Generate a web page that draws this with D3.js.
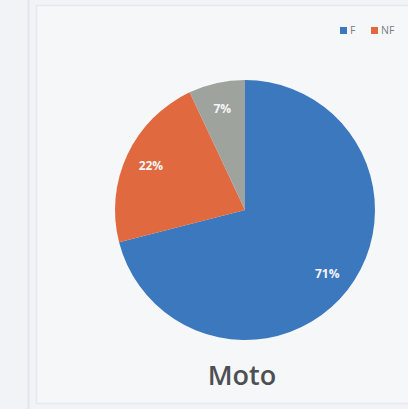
<!DOCTYPE html>
<html>
<head>
<meta charset="utf-8">
<script src="https://cdn.jsdelivr.net/npm/d3@7"></script>
<style>
  body { margin: 0; background: #f1f3f6; }
</style>
</head>
<body>
<div id="chart"></div>
<script>
// data
const categories = ['F', 'NF', 'Other'];
const values = [71, 22, 7];
const labels = ['71%', '22%', '7%'];
const legendItems = ['F', 'NF'];
const title = 'Moto';

const w = 408;
const h = 409;
const colours = ['#3b78bd', '#e0693f', '#9fa39d'];

const svg = d3.select('#chart')
  .append('svg')
  .attr('width', w)
  .attr('height', h);

// scanned page panels
svg.append('rect').attr('x', 0).attr('y', 0).attr('width', w).attr('height', h).attr('fill', '#f1f3f6');
svg.append('line').attr('x1', 28.5).attr('x2', 28.5).attr('y1', 0).attr('y2', h)
  .attr('stroke', '#e2e5e9').attr('stroke-width', 2);
svg.append('rect').attr('x', 36.5).attr('y', 5.5).attr('width', 380).attr('height', 398)
  .attr('fill', '#f5f7f9').attr('stroke', '#e6e8ec').attr('stroke-width', 1.5);

const cx = 245, cy = 210, r = 130;

const pie = d3.pie().sort(null).value(d => d);
const arcs = pie(values);
const arc = d3.arc().innerRadius(0).outerRadius(r);
const labelArc = d3.arc().innerRadius(r * 0.8).outerRadius(r * 0.8);

const g = svg.append('g').attr('transform', `translate(${cx},${cy})`);

g.selectAll('path')
  .data(arcs)
  .enter().append('path')
  .attr('d', arc)
  .attr('fill', (d, i) => colours[i]);

g.selectAll('text')
  .data(arcs)
  .enter().append('text')
  .attr('transform', d => `translate(${labelArc.centroid(d)})`)
  .attr('text-anchor', 'middle')
  .attr('dy', '0.35em')
  .attr('fill', '#f4f6fa')
  .attr('font-family', 'Open Sans, sans-serif')
  .attr('font-weight', 'bold')
  .attr('font-size', 12)
  .text((d, i) => labels[i]);

// legend, top right
const legend = svg.append('g').attr('transform', 'translate(340,27)');
const lx = [0, 31];
legendItems.forEach((name, i) => {
  legend.append('rect').attr('x', lx[i]).attr('y', 0).attr('width', 7).attr('height', 7)
    .attr('fill', colours[i]);
  legend.append('text').attr('x', lx[i] + 10).attr('y', 7)
    .attr('font-family', 'Open Sans, sans-serif').attr('font-size', 10.5)
    .attr('fill', '#7a7d82').text(name);
});

svg.append('text')
  .attr('x', 242).attr('y', 385)
  .attr('text-anchor', 'middle')
  .attr('font-family', 'Open Sans, sans-serif')
  .attr('font-weight', 600)
  .attr('font-size', 27)
  .attr('fill', '#4d4f53')
  .text(title);
</script>
</body>
</html>
